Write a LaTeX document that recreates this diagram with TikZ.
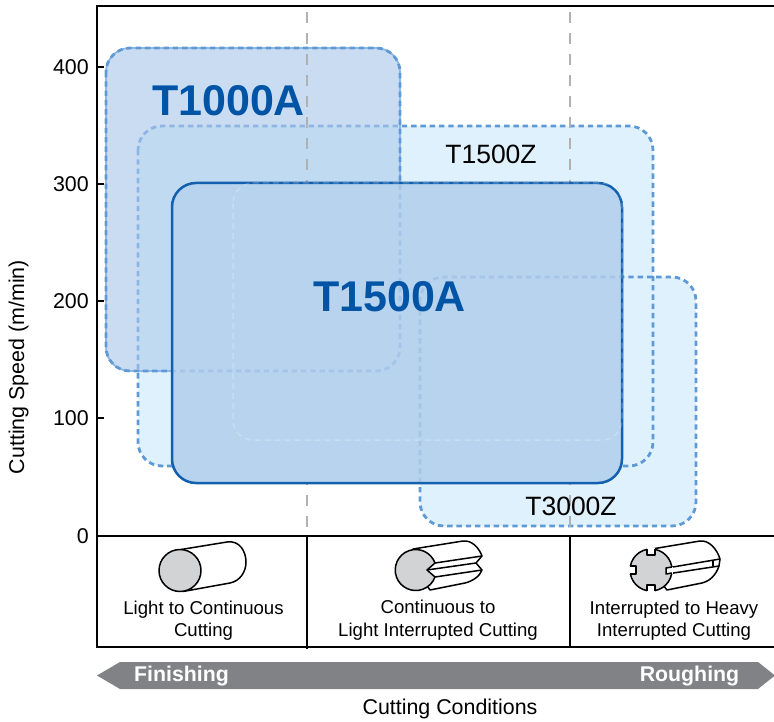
\documentclass[tikz,border=0pt]{standalone}
\usepackage{fontspec}
\setmainfont{Liberation Sans}
\definecolor{lightfill}{HTML}{DFF1FC}
\definecolor{hardfill}{HTML}{CADCF2}
\definecolor{overlapfill}{HTML}{C0DAF1}
\definecolor{mainfill}{HTML}{B7D3EE}
\definecolor{dashblue}{HTML}{5F9AD6}
\definecolor{softblue}{HTML}{8FB6E2}
\definecolor{deepblue}{HTML}{1360AE}
\definecolor{labelblue}{HTML}{0054A6}
\definecolor{bargrey}{HTML}{808285}
\definecolor{gridgrey}{HTML}{B0B1B3}
\definecolor{stockgrey}{HTML}{D1D3D4}
\tikzset{
  dashedge/.style={line width=2.8pt,dash pattern=on 5.4pt off 3.9pt},
  grade/.style={rounded corners=24pt},
  gridline/.style={gridgrey,line width=1.5pt,dash pattern=on 11pt off 10pt},
  frameline/.style={black,line width=1.6pt},
  tickline/.style={black,line width=1.6pt},
  icon/.style={black,line width=1.5pt,line join=round},
  axlabel/.style={inner sep=0pt,font=\fontsize{21.4}{25}\selectfont},
  caselabel/.style={inner sep=0pt,align=center,font=\fontsize{18.6}{22.5}\selectfont},
  gradelabel/.style={inner sep=0pt,font=\fontsize{26.5}{30}\selectfont},
  biglabel/.style={inner sep=0pt,text=labelblue,font=\fontsize{43}{48}\selectfont\bfseries},
  barlabel/.style={inner sep=0pt,text=white,font=\fontsize{21.3}{25}\selectfont\bfseries},
}
\begin{document}
\begin{tikzpicture}[x=1pt,y=-1pt]
\useasboundingbox (0,0) rectangle (774,722);
% light grades
\fill[grade,lightfill] (138,126) rectangle (653,466);
\fill[grade,lightfill] (420,277) rectangle (696,526);
\draw[grade,dashedge,dashblue] (138,126) rectangle (653,466);
\draw[grade,dashedge,dashblue] (420,277) rectangle (696,526);
% T1000A
\fill[grade,hardfill] (106,48) rectangle (400,371);
\begin{scope}
\clip[grade] (106,48) rectangle (400,371);
\fill[grade,overlapfill] (138,126) rectangle (653,466);
\draw[grade,dashedge,softblue] (138,126) rectangle (653,466);
\end{scope}
\draw[grade,softblue,line width=1.8pt] (106,48) rectangle (400,371);
\draw[grade,dashedge,dashblue] (106,48) rectangle (400,371);
% grid
\draw[gridline] (307,12) -- (307,535);
\draw[gridline] (570,12) -- (570,535);
% T1500A
\fill[grade,mainfill] (172,183) rectangle (622,483);
\begin{scope}
\clip[grade] (172,183) rectangle (622,483);
\draw[grade,dashedge,softblue,opacity=.45] (106,48) rectangle (400,371);
\draw[grade,dashedge,softblue,opacity=.45] (420,277) rectangle (696,526);
\end{scope}
\draw[grade,deepblue,line width=2.5pt] (172,183) rectangle (622,483);
\draw[rounded corners=20pt,white,opacity=.22,line width=1.5pt,dash pattern=on 6pt off 4pt] (233,183) rectangle (622,440);
% frame
\draw[frameline] (97,536) -- (97,6) -- (774,6);
\draw[frameline] (97,536) -- (774,536);
\draw[frameline] (97,536) -- (97,647) -- (774,647);
\draw[frameline] (307,536) -- (307,649);
\draw[frameline] (570,536) -- (570,647);
\draw[tickline] (97,67) -- (104,67);
\draw[tickline] (97,184) -- (104,184);
\draw[tickline] (97,301) -- (104,301);
\draw[tickline] (97,418) -- (104,418);
% axis labels
\node[axlabel,anchor=east] (tick400) at (89,67) {400};
\node[axlabel,anchor=east] (tick300) at (89,184) {300};
\node[axlabel,anchor=east] (tick200) at (89,301) {200};
\node[axlabel,anchor=east] (tick100) at (89,418) {100};
\node[axlabel,anchor=east] (tick0) at (89,536) {0};
\node[axlabel,rotate=90] (yaxis) at (18.5,367) {Cutting Speed (m/min)};
\node[axlabel] (xaxis) at (450,708.5) {Cutting Conditions};
% grade labels
\node[biglabel] (t1000a) at (228.5,100.5) {T1000A};
\node[biglabel] (t1500a) at (389.5,296.5) {T1500A};
\node[gradelabel] (t1500z) at (491,154) {T1500Z};
\node[gradelabel] (t3000z) at (571,506) {T3000Z};
% case labels
\node[caselabel] (case1) at (203.5,620.5) {Light to Continuous\\Cutting};
\node[caselabel] (case2) at (438,620) {Continuous to\\Light Interrupted Cutting};
\node[caselabel] (case3) at (674,620.5) {Interrupted to Heavy\\Interrupted Cutting};
% bar
\fill[bargrey] (97,675.5) -- (120,662) -- (758,662) -- (775,675.5) -- (758,689) -- (120,689) -- cycle;
\node[barlabel] (finishing) at (181.5,676) {Finishing};
\node[barlabel] (roughing) at (689.5,676) {Roughing};
% icon 1
\draw[icon,fill=white] (181,549.5) -- (227,542) .. controls (240,540) and (246,552) .. (246,562) .. controls (246,572) and (240,581) .. (230,583) -- (183,591.5);
\draw[icon,fill=stockgrey] (180,570.5) circle[radius=21];
% icon 2
\draw[icon,fill=white] (413,549) -- (463,541) .. controls (472,540) and (479,548) .. (482,556) -- (476,563) -- (482,570) .. controls (480,576) and (473,581) .. (465,583) -- (430,590) -- (416,570) -- cycle;
\draw[icon] (435,563) -- (482,556);
\draw[icon] (427,570) -- (476,563);
\draw[icon] (435,577) -- (482,570);
\draw[icon,fill=stockgrey] (435,563) arc[start angle=-20,end angle=-340,radius=20.5] -- (427,570) -- cycle;
% icon 3
\draw[icon,fill=white] (652,549) -- (700,541) .. controls (709,540) and (717,549) .. (720,559) -- (719,566) .. controls (716,575) and (710,581) .. (702,583) -- (667,590) -- (651,570) -- cycle;
\draw[icon] (667,568) -- (720,559);
\draw[icon] (667,574) -- (719,566);
\draw[icon] (713,560) -- (713,566);
\draw[icon,fill=stockgrey] (651,570) circle[radius=21];
\fill[white] (647,548) rectangle (655,555);
\draw[icon] (647,549) -- (647,555) -- (655,555) -- (655,549);
\fill[white] (647,585) rectangle (655,592);
\draw[icon] (647,591) -- (647,585) -- (655,585) -- (655,591);
\fill[white] (629,566) rectangle (636,574);
\draw[icon] (630,566) -- (636,566) -- (636,574) -- (630,574);
\fill[white] (666,567) rectangle (673,574);
\draw[icon] (672,567) -- (666,568) -- (666,574) -- (672,573);
\end{tikzpicture}
\end{document}
